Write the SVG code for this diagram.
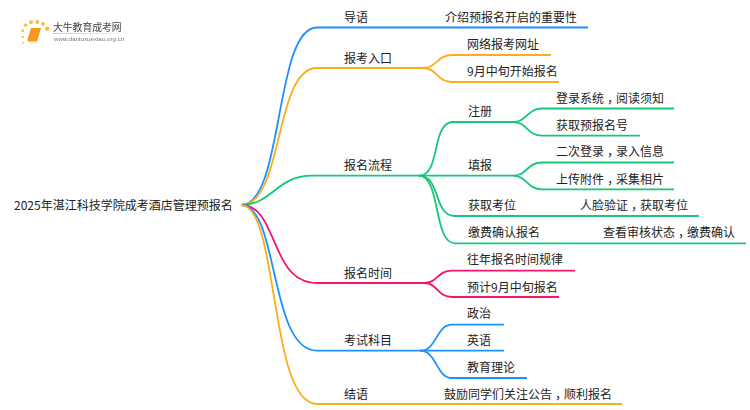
<svg xmlns="http://www.w3.org/2000/svg" width="750" height="410" viewBox="0 0 750 410">
<style>
text{font-family:"Noto Sans CJK SC","Noto Sans",sans-serif;font-size:12px;fill:#222}
.k{font-family:"Noto Sans CJK TC","Noto Sans CJK SC",sans-serif}
.c{fill:none;stroke-width:1.8}
.blue{stroke:#1e90ff}.amber{stroke:#fbae17}.green{stroke:#14c779}.pink{stroke:#f5156f}
</style>
<defs>
<linearGradient id="fade"><stop offset="0" stop-color="#ccc"/><stop offset="1" stop-color="#ccc" stop-opacity="0"/></linearGradient>
<filter id="soft" x="-5%" y="-5%" width="110%" height="110%"><feGaussianBlur stdDeviation="0.35"/></filter>
</defs>
<rect width="750" height="410" fill="#fff"/>
<g id="logo" filter="url(#soft)">
<g fill="#fbc043"><circle cx="22.700" cy="37" r="1.200"/><circle cx="22.700" cy="30.700" r="1.500"/><circle cx="25.700" cy="25.300" r="1.800"/><circle cx="31" cy="22.300" r="2"/><circle cx="37.300" cy="22" r="2"/><circle cx="43" cy="24" r="2"/><circle cx="47.300" cy="28.700" r="2.300"/><circle cx="23.300" cy="42.700" r="1"/></g>
<path d="M31 28H41L37.500 40.500Q37 41.500 36 41.500H29Q27 41.500 27.500 39.500Z" fill="#f49a1c"/><path d="M27.500 40.500Q28 42.500 30 42.500H36.500L37 41H29Z" fill="#fbd38a"/>
<text x="53" y="31" style="font-size:9.800px;fill:#444">大牛教育成考网</text>
<rect x="53" y="33" width="80" height="1" fill="url(#fade)"/>
<text x="54" y="41" style="font-size:6.200px;fill:#777;font-family:'Liberation Sans',sans-serif">www.daniuxuexiao.org.cn</text>
</g>
<g id="connectors">
<path class="c blue" d="M241 205C284 205 274 27.500 317 27.500H588"/>
<path class="c amber" d="M241 205C284 205 274 68 317 68H423C437 68 437 55 452 55H551"/>
<path class="c amber" d="M423 68C437 68 437 82 452 82H559"/>
<path class="c green" d="M241 205C272 205 276 175.700 312 175.700H513"/>
<path class="c green" d="M419 175.700C441 175.700 431 122 453 122H513C527 122 527 108.500 542 108.500H674"/>
<path class="c green" d="M513 122C527 122 527 135.700 542 135.700H640"/>
<path class="c green" d="M513 175.700C527 175.700 527 162.500 542 162.500H674"/>
<path class="c green" d="M513 175.700C527 175.700 527 189.300 542 189.300H674"/>
<path class="c green" d="M419 175.700C441 175.700 433 216 455 216H699"/>
<path class="c green" d="M419 175.700C441 175.700 433 243.300 455 243.300H746"/>
<path class="c pink" d="M241 205C279 205 269 283 317 283H424C438 283 437 270.600 452 270.600H575"/>
<path class="c pink" d="M424 283C438 283 437 297 452 297H559"/>
<path class="c blue" d="M241 205C279 205 269 350.700 317 350.700H504"/>
<path class="c blue" d="M420 350.700C437 350.700 436 324.700 452 324.700H504"/>
<path class="c blue" d="M420 350.700C437 350.700 436 378 452 378H527"/>
<path class="c amber" d="M241 205C279 205 269 404 317 404H622"/>
</g>
<g id="root"><text x="14" y="210">2025年湛江科技学院成考酒店管理预报名</text></g>
<g id="n1"><text x="344" y="22">导语</text></g>
<g id="n1a"><text x="445" y="22">介绍预报名开启的重要性</text></g>
<g id="n2"><text x="344" y="63">报考入口</text></g>
<g id="n2a"><text x="467" y="49">网络报考网址</text></g>
<g id="n2b"><text x="467" y="76">9月中旬开始报名</text></g>
<g id="n3"><text x="344" y="170">报名流程</text></g>
<g id="n31"><text x="468" y="116">注册</text></g>
<g id="n31a"><text x="556" y="103">登录系统<tspan class="k" dy="3.500">，</tspan><tspan dy="-3.500">阅读须知</tspan></text></g>
<g id="n31b"><text x="556" y="130">获取预报名号</text></g>
<g id="n32"><text x="468" y="170">填报</text></g>
<g id="n32a"><text x="556" y="156">二次登录<tspan class="k" dy="3.500">，</tspan><tspan dy="-3.500">录入信息</tspan></text></g>
<g id="n32b"><text x="556" y="184">上传附件<tspan class="k" dy="3.500">，</tspan><tspan dy="-3.500">采集相片</tspan></text></g>
<g id="n33"><text x="468" y="210">获取考位</text></g>
<g id="n33a"><text x="580" y="210">人脸验证<tspan class="k" dy="3.500">，</tspan><tspan dy="-3.500">获取考位</tspan></text></g>
<g id="n34"><text x="468" y="237">缴费确认报名</text></g>
<g id="n34a"><text x="603" y="237">查看审核状态<tspan class="k" dy="3.500">，</tspan><tspan dy="-3.500">缴费确认</tspan></text></g>
<g id="n4"><text x="344" y="278">报名时间</text></g>
<g id="n4a"><text x="467" y="264">往年报名时间规律</text></g>
<g id="n4b"><text x="467" y="292">预计9月中旬报名</text></g>
<g id="n5"><text x="344" y="345">考试科目</text></g>
<g id="n5a"><text x="467" y="318">政治</text></g>
<g id="n5b"><text x="467" y="345">英语</text></g>
<g id="n5c"><text x="467" y="372">教育理论</text></g>
<g id="n6"><text x="344" y="399">结语</text></g>
<g id="n6a"><text x="444" y="399">鼓励同学们关注公告<tspan class="k" dy="3.500">，</tspan><tspan dy="-3.500">顺利报名</tspan></text></g>
</svg>
